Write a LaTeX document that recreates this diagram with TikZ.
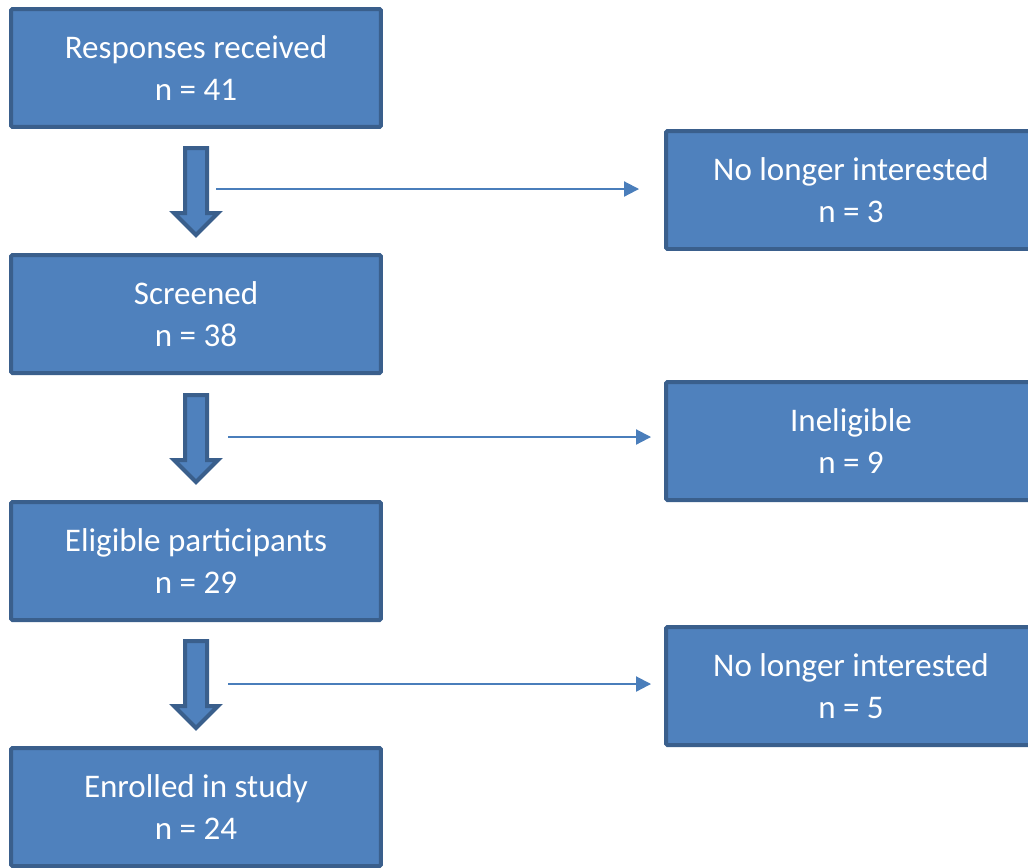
\documentclass[tikz,border=0pt]{standalone}
\usepackage{fontspec}
\setmainfont{Carlito}
\usepackage{tikz}
\usetikzlibrary{arrows.meta, positioning, calc}
\definecolor{boxfill}{HTML}{4F81BD}
\definecolor{boxline}{HTML}{3A5F8C}
\definecolor{arrowline}{HTML}{4A7EBB}

\begin{document}
\begin{tikzpicture}[x=0.02cm, y=-0.02cm,
  stagebox/.style={fill=boxfill, draw=boxline, line width=0.08cm, rounded corners=0.03cm, minimum width=7.4cm, minimum height=2.36cm, text=white, align=center, font=\fontsize{18.8}{23.5}\selectfont},
  sidearrow/.style={arrowline, line width=0.04cm, -{Triangle[length=0.3cm,width=0.3cm]}},
  blockarrow/.style={fill=boxfill, draw=boxline, line width=0.08cm}]
\useasboundingbox (0,0) rectangle (1028,867);
\clip (0,0) rectangle (1028,867);
\node[stagebox] (Resp) at (196,68) {Responses received\\n = 41};
\node[stagebox] (Scr) at (196,314) {Screened\\n = 38};
\node[stagebox] (Elig) at (196,561) {Eligible participants\\n = 29};
\node[stagebox] (Enr) at (196,807) {Enrolled in study\\n = 24};
\node[stagebox] (NoInt1) at (851,190) {No longer interested\\n = 3};
\node[stagebox] (Inel) at (851,441) {Ineligible\\n = 9};
\node[stagebox] (NoInt2) at (851,686) {No longer interested\\n = 5};
% down arrows
\foreach \t in {146,393,639}
  \draw[blockarrow] (185,\t+2) -- (207,\t+2) -- (207,\t+67) -- (218,\t+67) -- (196,\t+89) -- (174,\t+67) -- (185,\t+67) -- cycle;
% side arrows
\coordinate (s1) at (216,189);
\coordinate (s2) at (228,437);
\coordinate (s3) at (228,684);
\draw[sidearrow, shorten >=0.5cm] (s1) -- (s1 -| NoInt1.west);
\draw[sidearrow, shorten >=0.26cm] (s2) -- (s2 -| Inel.west);
\draw[sidearrow, shorten >=0.26cm] (s3) -- (s3 -| NoInt2.west);
\end{tikzpicture}
\end{document}
